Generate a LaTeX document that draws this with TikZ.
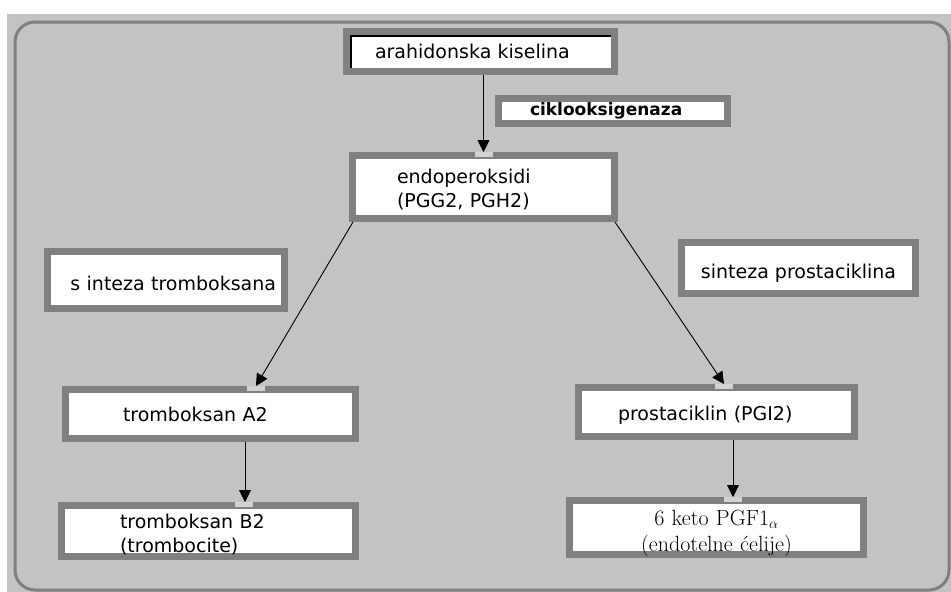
\documentclass[tikz,border=0pt]{standalone}
\usepackage{fontspec}
\setsansfont{DejaVu Sans}
\usetikzlibrary{arrows.meta}
\definecolor{paneg}{HTML}{C3C3C3}
\definecolor{edgeg}{HTML}{808080}
\definecolor{glueg}{HTML}{D2D2D2}
\tikzset{
    box/.style={rectangle,draw=edgeg,fill=white,line width=7pt,inner sep=0pt,
        font=\sffamily\fontsize{19}{24}\selectfont},
    leftbox/.style={box,align=left},
    flow/.style={-{Triangle[width=12pt,length=12pt]},black,line width=0.9pt},
    glue/.style={fill=glueg},
    frame/.style={draw=edgeg,line width=3pt,rounded corners=20pt}}
\begin{document}
\begin{tikzpicture}[x=1pt,y=-1pt]
\useasboundingbox (0,0) rectangle (951,592);
\fill[paneg] (7,14) rectangle (951,592);
\draw[frame] (15,22) rectangle (949,590);

\node[leftbox,text width=211pt,inner xsep=28.5pt,minimum height=40pt] (ar) at (480.5,51.5) {arahidonska kiselina};
\draw[black,line width=1.2pt] ([shift={(8pt,7pt)}]ar.south west) |- ([shift={(-7pt,-8pt)}]ar.north east);
\node[leftbox,text width=166pt,inner xsep=31.5pt,minimum height=25pt,
    font=\sffamily\bfseries\fontsize{17}{18}\selectfont] (cox) at (613,111) {ciklooksigenaza};
\node[leftbox,text width=173pt,inner xsep=44.5pt,minimum height=63pt,text depth=21pt] (endo) at (483.5,187) {endoperoksidi\\(PGG2, PGH2)};

\node[box,align=right,text width=220pt,inner xsep=8.5pt,minimum height=57pt,
    text height=20pt,text depth=0pt] (stx) at (166,280) {s inteza tromboksana};
\node[box,minimum width=234pt,minimum height=51pt,text height=20pt,text depth=0pt] (spc) at (798.5,268) {sinteza prostaciklina};

\node[leftbox,text width=175pt,inner xsep=57.5pt,minimum height=49pt] (ta2) at (210.5,414) {tromboksan A2};
\node[leftbox,text width=177pt,inner xsep=58.5pt,minimum height=51pt,text depth=19pt] (tb2) at (208.5,531) {tromboksan B2\\(trombocite)};
\node[leftbox,text width=197pt,inner xsep=39.5pt,minimum height=49pt,
    text height=17pt,text depth=0pt] (pgi) at (716.5,412) {prostaciklin (PGI2)};
\node[box,align=center,text width=280pt,inner xsep=7pt,minimum height=54pt,text depth=20pt,
    font=\rmfamily\fontsize{22}{26}\selectfont] (keto) at (716.5,527.5) {6 keto PGF1$_\alpha$\\(endotelne ćelije)};

% glue points
\fill[glue] ([xshift=-9pt]endo.north) rectangle ++(18,5);
\fill[glue] ([xshift=36.5pt]ta2.north) rectangle ++(18,5);
\fill[glue] ([xshift=-1.5pt]pgi.north) rectangle ++(18,5);
\fill[glue] ([xshift=26pt]tb2.north) rectangle ++(18,5);
\fill[glue] ([xshift=7.5pt]keto.north) rectangle ++(18,5);

\path[flow]
    (ar.south -| endo.north) edge (endo.north)
    ([xshift=4pt]endo.south west) edge ([xshift=45.5pt]ta2.north)
    ([xshift=-3pt]endo.south east) edge ([xshift=7.5pt]pgi.north)
    ([xshift=34.5pt]ta2.south) edge ([xshift=36.5pt]tb2.north)
    ([xshift=16.5pt]pgi.south) edge ([xshift=16.5pt]keto.north);
\end{tikzpicture}
\end{document}
